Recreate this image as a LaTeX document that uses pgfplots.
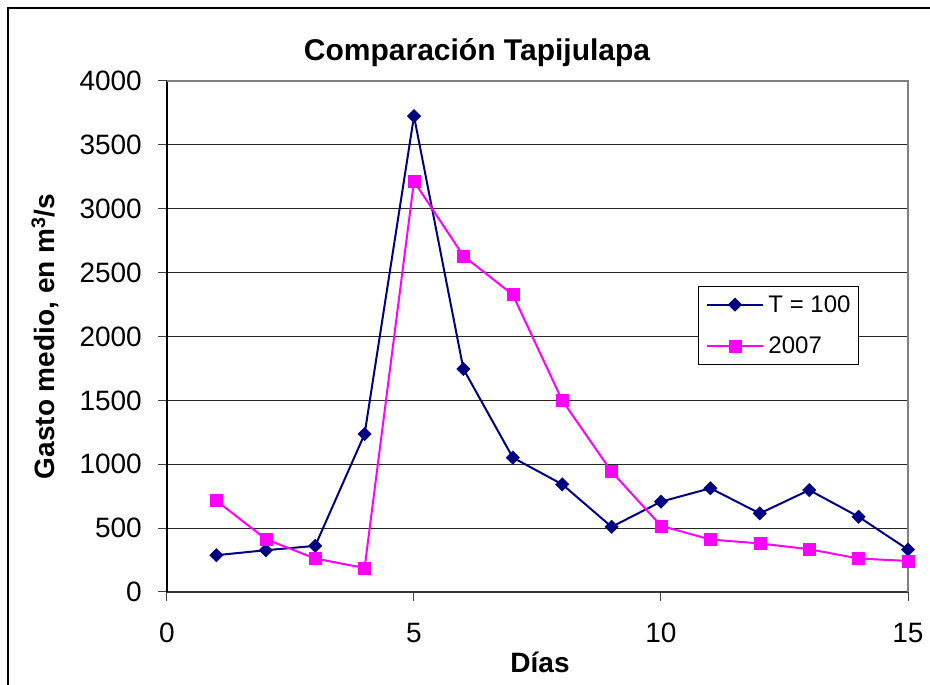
\documentclass[border=0pt]{standalone}
\usepackage{fontspec}
\setmainfont{Liberation Sans}
\usepackage{pgfplots}
\pgfplotsset{compat=1.18}

\definecolor{navyline}{RGB}{0,0,128}
\definecolor{magline}{RGB}{255,0,255}

\pgfplotstableread{
dia gasto
1 288
2 327
3 361
4 1236
5 3725
6 1746
7 1052
8 843
9 510
10 707
11 812
12 615
13 798
14 589
15 332
}\tcien

\pgfplotstableread{
dia gasto
1 715
2 414
3 262
4 188
5 3215
6 2631
7 2327
8 1500
9 942
10 518
11 411
12 380
13 335
14 262
15 243
}\tdosmil

\begin{document}
\begin{tikzpicture}[x=1pt,y=1pt]
\useasboundingbox (-167,-93) rectangle (763,592);
% marco exterior del grafico
\draw[line width=1.3pt] (-159,-93) -- (-159,584) -- (763,584);
\begin{axis}[
    at={(0,0)}, anchor=south west,
    scale only axis,
    width=741pt, height=511pt,
    xmin=0, xmax=15,
    ymin=0, ymax=4000,
    xtick={0,5,10,15},
    ytick={0,500,...,4000},
    clip=false,
    axis lines=left,
    axis line style={-, line width=1.6pt},
    x axis line style={black!80},
    tick align=outside,
    major tick length=9pt,
    tick style={black!75, line width=1pt},
    ymajorgrids,
    grid style={black!85, line width=1pt},
    scaled ticks=false,
    /pgf/number format/1000 sep={},
    /pgf/number format/assume math mode=true,
    ticklabel style={font=\fontsize{28}{32}\selectfont},
    yticklabel style={anchor=east, inner sep=0pt, xshift=-16pt},
    xticklabel style={anchor=north, inner sep=0pt, yshift=-22pt},
    title={Comparación Tapijulapa},
    title style={at={(axis description cs:0.4184,1)}, anchor=base, yshift=14pt,
        font=\bfseries\fontsize{30}{34}\selectfont},
    xlabel={Días},
    xlabel style={at={(axis description cs:0.5034,0)}, anchor=base, yshift=-81pt,
        font=\bfseries\fontsize{28}{32}\selectfont},
    ylabel={Gasto medio, en m\textsuperscript{3}/s},
    ylabel style={at={(axis description cs:-0.1646,0.5)}, anchor=center,
        font=\bfseries\fontsize{28}{32}\selectfont},
    legend cell align=left,
    legend image code/.code={
        \draw[mark repeat=2, mark phase=2, #1, line width=2pt]
            plot coordinates {(0pt,0pt) (27.5pt,0pt) (55pt,0pt)};},
    legend style={at={(axis description cs:0.7166,0.5988)}, anchor=north west,
        draw=black, line width=1pt, fill=white,
        font=\fontsize{24}{27}\selectfont,
        inner xsep=8pt, inner ysep=9pt, row sep=23pt,
        nodes={inner sep=0pt}, column sep=5pt},
]
\addplot[navyline, line width=2pt, mark=square*, mark size=4.7pt,
    mark options={solid, rotate=45, fill=navyline, draw=navyline, line width=0.5pt}]
    table[x=dia, y=gasto] {\tcien};
\addlegendentry{T = 100}
\addplot[magline, line width=2pt, mark=square*, mark size=6pt,
    mark options={solid, fill=magline, draw=magline, line width=0.5pt}]
    table[x=dia, y=gasto] {\tdosmil};
\addlegendentry{2007}
% borde superior y derecho del area de trazado
\draw[gray, line width=1.6pt] (rel axis cs:0,1) -- (rel axis cs:1,1) -- (rel axis cs:1,0);
\end{axis}
\end{tikzpicture}
\end{document}
